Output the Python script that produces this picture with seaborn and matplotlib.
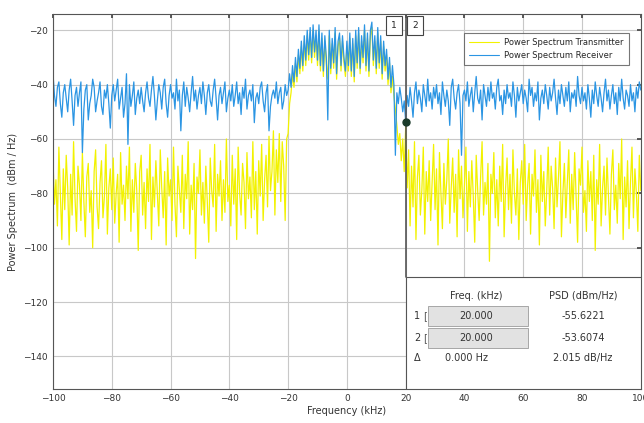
import numpy as np
import pandas as pd
import seaborn as sns
import matplotlib.pyplot as plt
from matplotlib.patches import Rectangle

# frequency grid (kHz), 0.5 kHz spacing
freq_start, freq_stop, n_points = -100, 100, 401

# receiver PSD (dBm/Hz)
receiver = [
    -36, -44, -48, -41, -39, -47, -52, -43, -40, -45, -50, -42, -38, -46, -55, -44, -41, -48, -43, -39,
    -65, -49, -42, -40, -53, -47, -44, -38, -41, -50, -46, -43, -39, -48, -51, -42, -45, -40, -47, -56,
    -44, -40, -46, -42, -38, -49, -45, -41, -52, -47, -36, -62, -40, -48, -44, -39, -51, -45, -42, -47,
    -41, -46, -50, -43, -39, -45, -48, -42, -37, -44, -53, -46, -40, -43, -49, -41, -38, -47, -52, -44,
    -40, -45, -43, -49, -38, -46, -42, -57, -44, -39, -48, -41, -45, -50, -43, -37, -46, -42, -49, -44,
    -41, -47, -39, -44, -51, -43, -40, -46, -48, -42, -38, -45, -53, -44, -41, -47, -43, -39, -50, -45,
    -42, -46, -40, -48, -44, -39, -47, -43, -51, -41, -45, -38, -49, -44, -42, -46, -40, -54, -45, -43,
    -47, -41, -39, -46, -50, -43, -40, -57, -48, -44, -42, -45, -39, -47, -43, -41, -49, -46, -40, -44,
    -42, -36, -41, -33, -39, -30, -37, -27, -34, -24, -33, -22, -31, -20, -29, -19, -30, -18, -28, -20,
    -31, -18, -33, -21, -35, -22, -30, -53, -20, -34, -23, -32, -19, -36, -24, -21, -33, -22, -30, -35,
    -24, -33, -21, -35, -23, -37, -20, -32, -19, -34, -22, -30, -18, -33, -21, -35, -20, -17, -31, -22,
    -34, -19, -32, -22, -36, -24, -33, -27, -38, -30, -41, -33, -40, -66, -43, -47, -41, -45, -50, -46,
    -53.6, -44, -48, -41, -46, -52, -43, -39, -47, -42, -45, -50, -40, -44, -48, -38, -46, -43, -49, -41,
    -45, -40, -47, -43, -51, -39, -44, -48, -42, -46, -55, -41, -38, -45, -49, -43, -40, -47, -66, -44,
    -42, -46, -39, -48, -44, -41, -50, -43, -37, -45, -47, -42, -53, -40, -44, -48, -41, -46, -39, -45,
    -43, -49, -41, -38, -46, -44, -51, -42, -47, -40, -45, -43, -48, -39, -44, -52, -41, -46, -43, -40,
    -47, -42, -45, -50, -38, -44, -41, -48, -43, -46, -39, -53, -45, -42, -47, -40, -44, -49, -41, -46,
    -43, -38, -45, -51, -42, -47, -40, -44, -48, -41, -46, -39, -50, -43, -45, -42, -48, -37, -44, -47,
    -41, -46, -43, -49, -40, -45, -52, -42, -47, -39, -44, -48, -41, -45, -50, -43, -38, -46, -42, -49,
    -44, -40, -47, -43, -51, -41, -46, -38, -45, -49, -42, -44, -48, -40, -46, -43, -50, -41, -45, -39,
    -42,
]

# transmitter PSD (dBm/Hz)
transmitter = [
    -68, -84, -75, -92, -63, -80, -97, -71, -86, -66, -78, -99, -73, -88, -61, -82, -94, -70, -77, -90,
    -65, -83, -96, -74, -69, -87, -79, -100, -72, -64, -85, -93, -76, -68, -89, -81, -62, -95, -78, -71,
    -86, -67, -91, -80, -73, -98, -65, -84, -77, -90, -70, -82, -63, -94, -75, -87, -69, -79, -101, -72,
    -66, -88, -76, -93, -71, -83, -62, -97, -74, -85, -68, -80, -92, -64, -78, -89, -72, -99, -67, -81,
    -75, -90, -63, -84, -96, -70, -79, -87, -66, -93, -73, -82, -61, -95, -77, -86, -69, -104, -74, -80,
    -64, -88, -76, -91, -70, -83, -98, -67, -79, -85, -62, -94, -73, -81, -68, -90, -75, -87, -60, -83,
    -77, -92, -66, -84, -71, -97, -63, -80, -88, -69, -76, -93, -65, -82, -74, -89, -61, -86, -72, -95,
    -68, -81, -62, -90, -75, -66, -85, -59, -79, -72, -57, -88, -64, -76, -58, -83, -61, -70, -90, -60,
    -58, -47, -43, -36, -41, -32, -39, -29, -36, -26, -35, -24, -33, -22, -31, -21, -32, -20, -30, -22,
    -33, -20, -35, -23, -37, -24, -32, -38, -22, -36, -25, -34, -21, -38, -26, -23, -35, -24, -32, -37,
    -26, -35, -23, -37, -25, -39, -22, -34, -21, -36, -24, -32, -20, -35, -23, -37, -22, -19, -33, -24,
    -36, -21, -34, -24, -38, -26, -35, -29, -40, -32, -43, -37, -44, -49, -55, -62, -58, -68, -60, -72,
    -55.6, -78, -64, -92, -70, -85, -61, -97, -74, -66, -88, -79, -63, -95, -72, -83, -68, -90, -76, -62,
    -86, -71, -99, -65, -80, -93, -69, -84, -75, -60, -91, -78, -67, -87, -73, -96, -64, -82, -70, -89,
    -77, -63, -94, -72, -85, -68, -81, -98, -66, -79, -90, -74, -61, -88, -76, -84, -69, -105, -73, -80,
    -65, -89, -75, -92, -70, -83, -62, -96, -78, -67, -86, -73, -91, -64, -80, -88, -71, -97, -76, -68,
    -84, -62, -90, -77, -69, -95, -73, -81, -64, -87, -75, -99, -66, -83, -72, -92, -79, -63, -88, -70,
    -78, -93, -67, -85, -74, -61, -96, -80, -69, -89, -76, -64, -91, -73, -86, -65, -82, -98, -71, -77,
    -63, -87, -79, -94, -68, -83, -72, -90, -66, -101, -75, -84, -62, -92, -78, -70, -88, -67, -81, -95,
    -73, -64, -86, -77, -91, -69, -82, -60, -97, -74, -85, -68, -93, -76, -63, -89, -71, -80, -94, -66,
    -79,
]

series_names = ["Power Spectrum Transmitter", "Power Spectrum Receiver"]
series_colors = ["#f2f200", "#2b95e3"]

# cursor readout
cursor_freq = 20.0
cursor_psd = [-55.6221, -53.6074]
table_header = ["Freq. (kHz)", "PSD (dBm/Hz)"]
table_rows = [["1", "20.000", "-55.6221"],
              ["2", "20.000", "-53.6074"],
              ["\u0394", "0.000 Hz", "2.015 dB/Hz"]]

x_ticks = list(range(-100, 101, 20))
y_ticks = list(range(-140, -19, 20))

freq = np.linspace(freq_start, freq_stop, n_points)
df = pd.DataFrame({"freq": np.concatenate([freq, freq]),
                   "psd": transmitter + receiver,
                   "series": [series_names[0]] * n_points + [series_names[1]] * n_points})

sns.set_theme(style="white")
plt.rcParams["font.family"] = ["DejaVu Sans"]

fig = plt.figure(figsize=(6.44, 4.23), dpi=100)
ax = fig.add_axes([0.0823, 0.0804, 0.9127, 0.8866])

sns.lineplot(data=df, x="freq", y="psd", hue="series", palette=series_colors,
             linewidth=0.9, ax=ax, legend=False)

ax.set_xlim(-100, 100)
ax.set_ylim(-152, -14)
ax.set_xticks(x_ticks)
ax.set_yticks(y_ticks)
ax.grid(True, color="#c8c8c8", linewidth=0.8)
ax.tick_params(direction="in", length=3, labelsize=6.5, colors="#444444",
               top=True, right=True, labelcolor="#333333")
for s in ax.spines.values():
    s.set_color("#555555")
    s.set_linewidth(0.8)
ax.set_xlabel("Frequency (kHz)", fontsize=7, color="#333333", labelpad=2)
ax.set_ylabel("Power Spectrum  (dBm / Hz)", fontsize=7, color="#333333", labelpad=4)

# legend
handles = [plt.Line2D([], [], color=c, linewidth=0.8) for c in series_colors]
leg = ax.legend(handles, series_names, loc="upper right", bbox_to_anchor=(0.987, 0.96),
                fontsize=6, frameon=True, fancybox=False, handlelength=3.6,
                borderpad=0.6, labelspacing=0.45, handletextpad=0.6)
leg.get_frame().set_edgecolor("#555555")
leg.get_frame().set_linewidth(0.8)

# cursor line, marker and label boxes
table_top = -110.8
ax.plot([cursor_freq, cursor_freq], [table_top, -14], color="#555555", linewidth=1.2)
ax.plot([cursor_freq], [cursor_psd[1]], "o", color="#1a3a2a", markersize=5)
for lab, dx in [("1", -4.0), ("2", 3.2)]:
    ax.text(cursor_freq + dx, -18.3, lab, fontsize=6.5, ha="center", va="center",
            bbox=dict(boxstyle="square,pad=0.55", fc="white", ec="#444444", lw=0.8))

# measurement table
tx = ax.transAxes
ax.add_patch(Rectangle((cursor_freq, -152), 100 - cursor_freq, table_top + 152,
                       facecolor="white", edgecolor="#555555", linewidth=0.8, zorder=5))
ax.text(0.72, 0.248, table_header[0], transform=tx, fontsize=7, ha="center", va="center",
        color="#333333", zorder=6)
ax.text(0.902, 0.248, table_header[1], transform=tx, fontsize=7, ha="center", va="center",
        color="#333333", zorder=6)
row_y = [0.195, 0.136, 0.083]
for (a, b, c), yy in zip(table_rows, row_y):
    ax.text(0.62, yy, a, transform=tx, fontsize=7, ha="center", va="center", color="#333333", zorder=6)
    if a != "\u0394":
        ax.add_patch(Rectangle((0.638, yy - 0.027), 0.17, 0.054, transform=tx,
                               facecolor="#e2e2e2", edgecolor="#9a9a9a", linewidth=0.6, zorder=5.5))
        ax.text(0.633, yy, "[", transform=tx, fontsize=7, ha="center", va="center",
                color="#555555", zorder=6)
    ax.text(0.72 if a != "\u0394" else 0.703, yy, b, transform=tx, fontsize=7, ha="center",
            va="center", color="#333333", zorder=6)
    ax.text(0.902, yy, c, transform=tx, fontsize=7, ha="center", va="center",
            color="#333333", zorder=6)

fig.savefig("out.png", dpi=100)
